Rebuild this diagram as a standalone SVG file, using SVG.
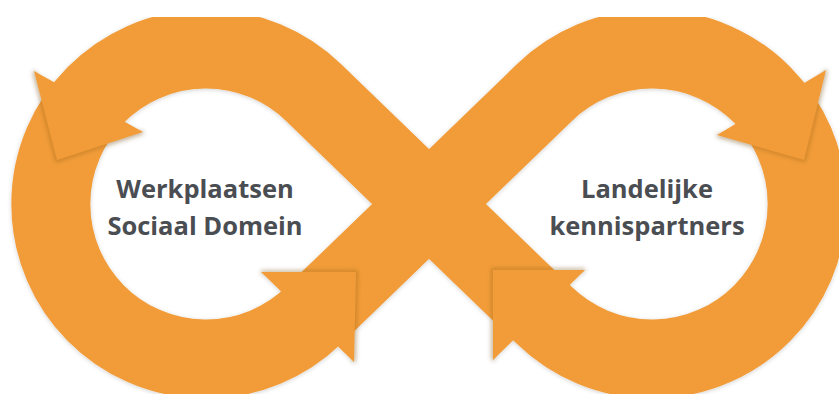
<svg xmlns="http://www.w3.org/2000/svg" width="839" height="398" viewBox="0 0 839 398">
  <defs>
    <filter id="halo" x="-10%" y="-10%" width="120%" height="120%">
      <feDropShadow dx="0" dy="1" stdDeviation="2" flood-color="#000" flood-opacity="0.18"/>
    </filter>
    <filter id="blur" x="-30%" y="-30%" width="160%" height="160%">
      <feGaussianBlur stdDeviation="2.2"/>
    </filter>
  </defs>
  <style>
    .band { fill: none; stroke: #F19C39; stroke-width: 79; stroke-linejoin: miter; }
    .head { fill: #F19C39; }
    .shade { fill: none; stroke: #7a4a10; stroke-opacity: 0.4; stroke-width: 3; filter: url(#blur); }
    .label { font-family: "Open Sans", "Noto Sans", "Liberation Sans", sans-serif; font-weight: 700; font-size: 25.5px; fill: #4a4d52; text-anchor: middle; }
  </style>
  <rect width="839" height="398" fill="#ffffff"/>
  <g id="connectors" filter="url(#halo)">
    <path id="figure-eight" class="band" d="M 429 204 L 313.5 92.5 A 155 155 0 1 0 313.5 315.5 L 544.5 92.5 A 155 155 0 1 1 544.5 315.5 Z"/>
    <g id="arrowheads">
      <polyline class="shade" points="34,71 57,160 143,132"/>
      <polygon class="head" points="34,71 143,132 57,160"/>
      <polyline class="shade" points="261,272 356,272 354,362"/>
      <polygon class="head" points="261,272 356,272 354,362"/>
      <polyline class="shade" points="585,270 493,270 493,360"/>
      <polygon class="head" points="585,270 493,270 493,360"/>
      <polyline class="shade" points="826,70 804,160 717,135"/>
      <polygon class="head" points="826,70 804,160 717,135"/>
    </g>
  </g>
  <g id="node-werkplaatsen">
    <text class="label" x="205" y="198">Werkplaatsen</text>
    <text class="label" x="205" y="235">Sociaal Domein</text>
  </g>
  <g id="node-landelijke">
    <text class="label" x="647" y="198">Landelijke</text>
    <text class="label" x="647" y="235">kennispartners</text>
  </g>
</svg>
